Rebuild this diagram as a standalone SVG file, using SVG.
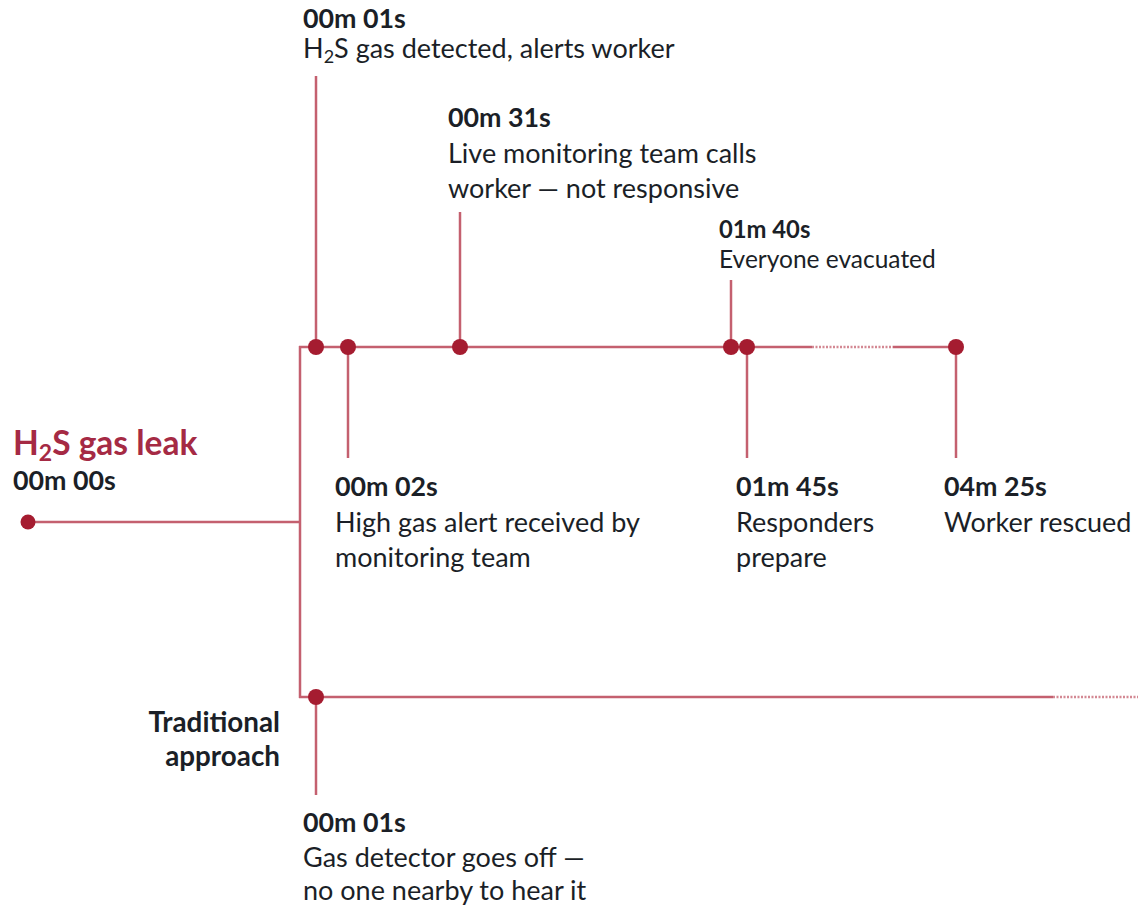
<svg xmlns="http://www.w3.org/2000/svg" width="1138" height="909" viewBox="0 0 1138 909">
<style>
.ln{stroke:#c4606f;stroke-width:2.5;fill:none}
.dt{stroke:#c4606f;stroke-width:2.5;fill:none;stroke-dasharray:2 1.5;opacity:0.75}
.dot{fill:#a51c30}
text{font-family:Lato,"Open Sans",sans-serif;fill:#1b1f27}
.t{font-weight:bold;font-size:26.8px}
.b{font-size:27px}
.ts{font-weight:bold;font-size:23.8px}
.bs{font-size:24.5px}
.tr{font-weight:bold;font-size:27.8px}
.title{font-weight:bold;font-size:33.5px;fill:#a52a44}
</style>
<g id="connectors">
<line class="ln" x1="28" y1="522" x2="300" y2="522"/>
<line class="ln" x1="300" y1="346" x2="300" y2="698"/>
<line class="ln" x1="299" y1="347" x2="812" y2="347"/>
<line class="dt" x1="812" y1="347" x2="893" y2="347"/>
<line class="ln" x1="893" y1="347" x2="956" y2="347"/>
<line class="ln" x1="299" y1="697" x2="1053" y2="697"/>
<line class="dt" x1="1053" y1="697" x2="1138" y2="697"/>
<line class="ln" x1="316" y1="76" x2="316" y2="347"/>
<line class="ln" x1="460" y1="212" x2="460" y2="347"/>
<line class="ln" x1="731" y1="280" x2="731" y2="347"/>
<line class="ln" x1="348" y1="347" x2="348" y2="458"/>
<line class="ln" x1="747" y1="347" x2="747" y2="458"/>
<line class="ln" x1="956" y1="347" x2="956" y2="458"/>
<line class="ln" x1="316" y1="697" x2="316" y2="795"/>
</g>
<g id="start">
<circle class="dot" cx="28" cy="522" r="7.5"/>
<text class="title" x="13" y="455">H<tspan font-size="23" dy="6">2</tspan><tspan dy="-6">S gas leak</tspan></text>
<text class="t" x="13" y="490">00m 00s</text>
</g>
<g id="n01s">
<circle class="dot" cx="316" cy="347" r="8"/>
<text class="t" x="303" y="28">00m 01s</text>
<text class="b" x="303" y="58">H<tspan font-size="18" dy="5">2</tspan><tspan dy="-5">S gas detected, alerts worker</tspan></text>
</g>
<g id="n02s">
<circle class="dot" cx="348" cy="347" r="8"/>
<text class="t" x="335" y="496">00m 02s</text>
<text class="b" x="335" y="532">High gas alert received by</text>
<text class="b" x="335" y="567">monitoring team</text>
</g>
<g id="n31s">
<circle class="dot" cx="460" cy="347" r="8"/>
<text class="t" x="448" y="127">00m 31s</text>
<text class="b" x="448" y="163">Live monitoring team calls</text>
<text class="b" x="448" y="198">worker — not responsive</text>
</g>
<g id="n140s">
<circle class="dot" cx="731" cy="347" r="8"/>
<text class="ts" x="719" y="238">01m 40s</text>
<text class="bs" x="719" y="268">Everyone evacuated</text>
</g>
<g id="n145s">
<circle class="dot" cx="747" cy="347" r="8"/>
<text class="t" x="736" y="496">01m 45s</text>
<text class="b" x="736" y="532">Responders</text>
<text class="b" x="736" y="567">prepare</text>
</g>
<g id="n425s">
<circle class="dot" cx="956" cy="347" r="8"/>
<text class="t" x="944" y="496">04m 25s</text>
<text class="b" x="944" y="532">Worker rescued</text>
</g>
<g id="traditional">
<circle class="dot" cx="316" cy="697" r="8"/>
<text class="tr" x="280" y="732" text-anchor="end">Traditional</text>
<text class="tr" x="280" y="766" text-anchor="end">approach</text>
<text class="t" x="303" y="832">00m 01s</text>
<text class="b" x="303" y="867">Gas detector goes off —</text>
<text class="b" x="303" y="900">no one nearby to hear it</text>
</g>
</svg>
